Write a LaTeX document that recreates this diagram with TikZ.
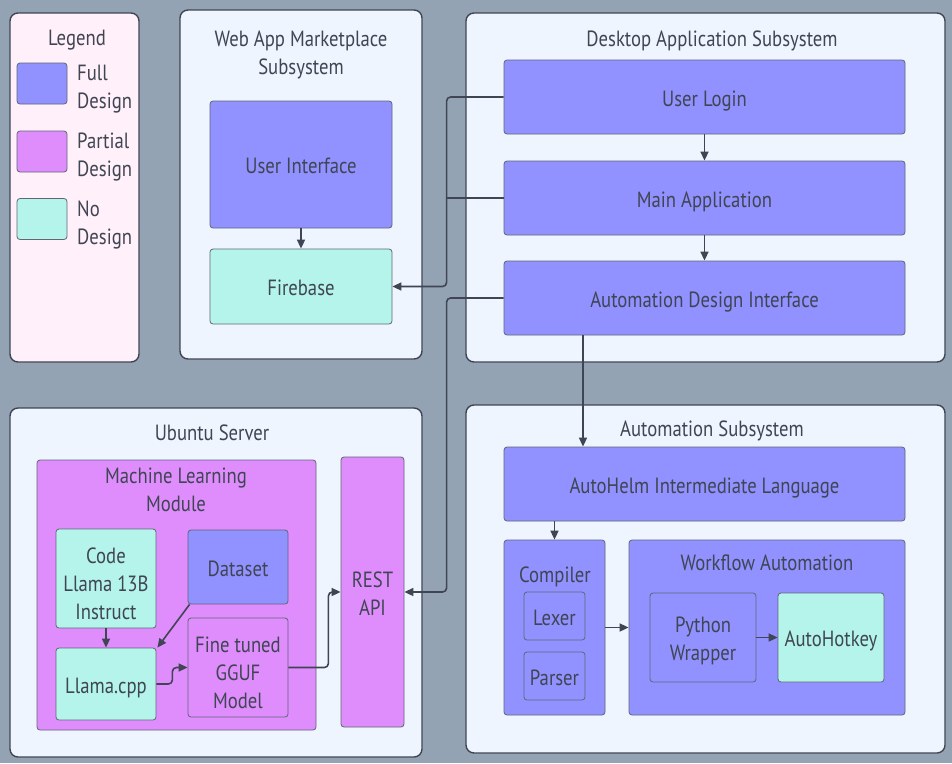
\documentclass[tikz,border=0pt]{standalone}
\usepackage{fontspec}
\setmainfont{PT Sans}[FakeStretch=0.85]
\usetikzlibrary{arrows.meta}
\definecolor{bg}{HTML}{94A3B4}
\definecolor{ink}{HTML}{3F4552}
\definecolor{edgegray}{HTML}{5F6775}
\definecolor{groupfill}{HTML}{EEF5FF}
\definecolor{legendfill}{HTML}{FFF0FA}
\definecolor{fullc}{HTML}{9191FF}
\definecolor{partialc}{HTML}{DF8DFD}
\definecolor{noc}{HTML}{B4F4EA}
\newcommand\ls{\rule[-5pt]{0pt}{28pt}} % same line box for every text line
\newcommand\lstall{\rule[-5pt]{0pt}{35pt}} % first line of the three-line boxes
\tikzset{
    >={Stealth[length=9pt, width=8pt, inset=0pt]}, % filled triangle heads
    box/.style={draw=edgegray, line width=0.8pt, rounded corners=3pt, text=ink,
        align=center, inner sep=0pt, font=\fontsize{22}{28}\selectfont\ls}, % common look of every box
    group/.style={box, fill=groupfill, draw=ink, line width=1.4pt, rounded corners=8pt}, % subsystem frames
    full/.style={box, fill=fullc}, % full design
    partial/.style={box, fill=partialc}, % partial design
    nodesign/.style={box, fill=noc}, % no design
    title/.style={text=ink, align=center, inner sep=0pt, font=\fontsize{22}{28}\selectfont\ls}, % frame titles
    link/.style={->, draw=ink, line width=1.6pt, rounded corners=4pt}, % connectors
}
\begin{document}
\begin{tikzpicture}[x=1pt, y=-1pt]
\fill[bg] (0,0) rectangle (952,763);
\useasboundingbox (0,0) rectangle (952,763);

% legend
\node[group, fill=legendfill, minimum width=129pt, minimum height=349pt] (legend) at (74.5,187.5) {};
\node[title] (legendtitle) at (77,36.8) {Legend};
\node[full, minimum width=50pt, minimum height=41pt] (swfull) at (42,83.5) {};
\node[partial, minimum width=50pt, minimum height=41pt] (swpartial) at (42,151.5) {};
\node[nodesign, minimum width=50pt, minimum height=41pt] (swno) at (42,219) {};
\node[title, align=left, anchor=west] (txfull) at (77,85.7) {\ls Full\\\ls Design};
\node[title, align=left, anchor=west] (txpartial) at (77,153.7) {\ls Partial\\\ls Design};
\node[title, align=left, anchor=west] (txno) at (77,221.7) {\ls No\\\ls Design};

% web app marketplace
\node[group, minimum width=242pt, minimum height=349pt] (webapp) at (301,184.5) {};
\node[title] (webtitle) at (301,51.7) {\ls Web App Marketplace\\\ls Subsystem};
\node[full, minimum width=182pt, minimum height=127pt] (ui) at (301,164.5) {User Interface};
\node[nodesign, minimum width=182pt, minimum height=75pt] (fb) at (301,286.5) {Firebase};

% desktop application
\node[group, minimum width=479pt, minimum height=349pt] (desktop) at (705.5,187.5) {};
\node[title] (desktoptitle) at (712,37.8) {Desktop Application Subsystem};
\node[full, minimum width=401pt, minimum height=74pt] (login) at (704.5,97) {User Login};
\node[full, minimum width=401pt, minimum height=74pt] (main) at (704.5,198) {Main Application};
\node[full, minimum width=401pt, minimum height=74pt] (adi) at (704.5,298) {Automation Design Interface};

% ubuntu server
\node[group, minimum width=412pt, minimum height=349pt] (ubuntu) at (216,582.5) {};
\node[title] (ubuntutitle) at (212,431.8) {Ubuntu Server};
\node[partial, minimum width=279pt, minimum height=270pt] (ml) at (176.5,595) {};
\node[title] (mltitle) at (176,488.7) {\ls Machine Learning\\\ls Module};
\node[nodesign, minimum width=100pt, minimum height=99pt] (codellama) at (106,578.5) {\lstall Code\\\ls Llama 13B\\\ls Instruct};
\node[full, minimum width=100pt, minimum height=74pt] (dataset) at (238,567) {Dataset};
\node[nodesign, minimum width=100pt, minimum height=72pt] (llamacpp) at (106,684) {Llama.cpp};
\node[partial, minimum width=100pt, minimum height=99pt] (finetuned) at (238,667.5) {\lstall Fine tuned\\\ls GGUF\\\ls Model};
\node[partial, minimum width=63pt, minimum height=270pt] (rest) at (372.5,592) {\ls REST\\\ls API};

% automation subsystem
\node[group, minimum width=479pt, minimum height=348pt] (automation) at (705.5,579) {};
\node[title] (automationtitle) at (712,427.8) {Automation Subsystem};
\node[full, minimum width=401pt, minimum height=74pt] (autohelm) at (704.5,484) {AutoHelm Intermediate Language};
\node[full, minimum width=101pt, minimum height=175pt] (compiler) at (554.5,627.5) {};
\node[title] (compilertitle) at (555,573.8) {Compiler};
\node[full, minimum width=61pt, minimum height=48pt] (lexer) at (554.5,616) {Lexer};
\node[full, minimum width=61pt, minimum height=48pt] (parser) at (554.5,676) {Parser};
\node[full, minimum width=276pt, minimum height=175pt] (workflow) at (767,627.5) {};
\node[title] (workflowtitle) at (767,561.8) {Workflow Automation};
\node[full, minimum width=106pt, minimum height=89pt] (wrapper) at (703,637.5) {\ls Python\\\ls Wrapper};
\node[nodesign, minimum width=106pt, minimum height=89pt] (ahk) at (831,637.5) {AutoHotkey};

% connectors
\draw[link] (ui) -- (fb);
\draw[link] (login.west) -- ++(-57,0) |- (fb.east);
\draw[link, -] (main.west) -- ++(-57,0);
\draw[link] (adi.west) -- ++(-57,0) |- (rest.east);
\draw[link] (login) -- (main);
\draw[link] (main) -- (adi);
\draw[link] ([xshift=-121.5pt]adi.south) -- ([xshift=-121.5pt]autohelm.north);
\draw[link] (autohelm.south -| compiler.north) -- (compiler.north);
\draw[link] (compiler.east) -- (workflow.west);
\draw[link] (wrapper) -- (ahk);
\draw[link] (codellama) -- (llamacpp);
\draw[link] ([xshift=2pt]dataset.south west) -- ([xshift=1pt]llamacpp.north east);
\draw[link] (llamacpp.east) -- ++(16,0) |- (finetuned.west);
\draw[link] (finetuned.east) -- ++(40,0) |- (rest.west);
\end{tikzpicture}
\end{document}
